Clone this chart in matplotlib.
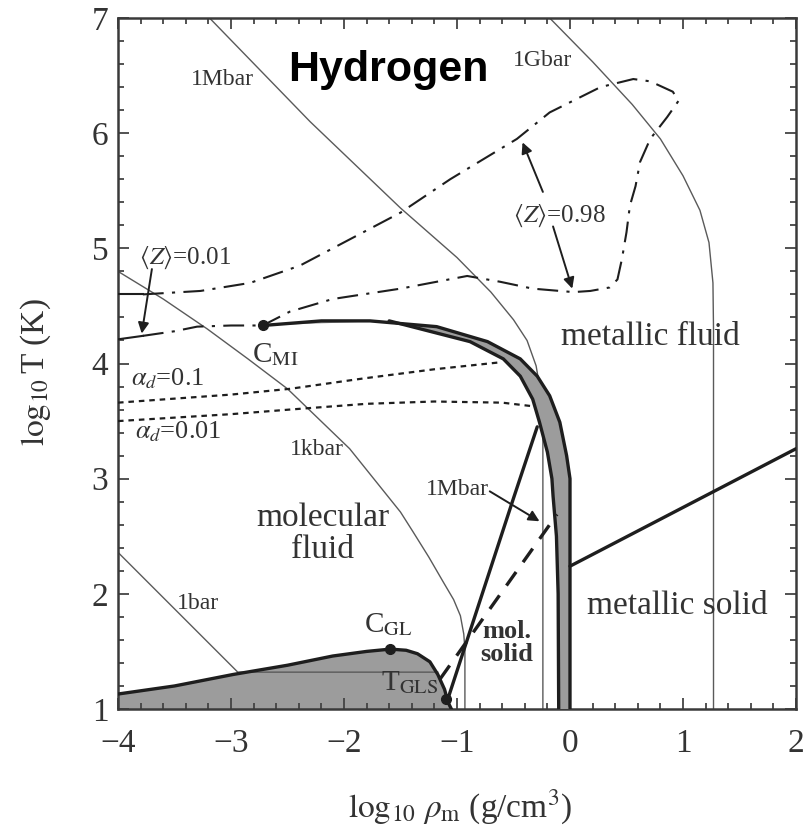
import matplotlib.pyplot as plt
from matplotlib.ticker import MultipleLocator

plt.rcParams['font.family'] = ['Liberation Serif', 'DejaVu Serif']
plt.rcParams['mathtext.fontset'] = 'stix'

INK = '#1e1e1e'
TXT = '#333333'
ISO = '#5a5a5a'
FILL = '#9c9c9c'

# isobars (log10 rho, log10 T)
bar1_x = [-4.0, -2.94, -1.17]
bar1_y = [2.36, 1.32, 1.32]
kbar1_x = [-4.0, -3.6, -3.21, -2.85, -2.50, -1.95, -1.50, -1.39, -1.25, -1.12, -1.03, -0.97, -0.94, -0.93, -0.93]
kbar1_y = [4.80, 4.56, 4.30, 4.04, 3.78, 3.26, 2.71, 2.54, 2.32, 2.10, 1.95, 1.81, 1.65, 1.52, 1.0]
mbar1_x = [-3.19, -2.30, -1.50, -1.00, -0.70, -0.50, -0.38, -0.30, -0.26, -0.24, -0.24]
mbar1_y = [7.00, 6.10, 5.35, 4.92, 4.62, 4.38, 4.20, 3.98, 3.75, 3.45, 1.0]
gbar1_x = [-0.18, 0.20, 0.55, 0.80, 1.00, 1.15, 1.23, 1.265, 1.27, 1.27]
gbar1_y = [7.00, 6.62, 6.25, 5.95, 5.63, 5.33, 5.05, 4.70, 4.30, 1.0]

# gas-liquid coexistence dome
gl_x = [-4.0, -3.5, -2.98, -2.5, -2.10, -1.80, -1.59, -1.45, -1.35, -1.24, -1.17, -1.11, -1.08, -1.05]
gl_y = [1.13, 1.20, 1.30, 1.38, 1.46, 1.50, 1.52, 1.51, 1.48, 1.41, 1.30, 1.17, 1.06, 1.0]

# molecular -> metallic transition band (outer and inner edges)
out_x = [-2.72, -2.20, -1.77, -1.18, -0.73, -0.44, -0.29, -0.18, -0.09, -0.03, 0.0, 0.0]
out_y = [4.33, 4.37, 4.37, 4.32, 4.19, 4.04, 3.89, 3.72, 3.49, 3.20, 3.00, 1.0]
in_x = [-1.60, -1.48, -0.885, -0.59, -0.44, -0.33, -0.27, -0.20, -0.16, -0.15, -0.12, -0.105, -0.10]
in_y = [4.37, 4.34, 4.19, 4.04, 3.89, 3.69, 3.49, 3.23, 3.00, 2.85, 2.50, 2.00, 1.0]

# melting lines
mmelt_x = [-1.09, -0.90, -0.70, -0.50, -0.29]
mmelt_y = [1.06, 1.63, 2.23, 2.83, 3.45]
smelt_x = [0.0, 2.0]
smelt_y = [2.24, 3.26]
msol_x = [-1.15, -0.115]
msol_y = [1.26, 2.69]

# dissociation fraction contours
ad01_x = [-4.0, -3.0, -2.48, -1.83, -1.20, -0.62]
ad01_y = [3.66, 3.73, 3.78, 3.87, 3.95, 4.01]
ad001_x = [-4.0, -3.0, -2.48, -1.80, -1.20, -0.60, -0.34]
ad001_y = [3.50, 3.56, 3.60, 3.65, 3.67, 3.66, 3.63]

# ionization contours <Z>
z098_x = [-3.78, -3.27, -2.83, -2.39, -1.50, -1.06, -0.47, -0.18, 0.27, 0.56, 0.71, 0.91, 0.96,
          0.86, 0.71, 0.62, 0.58, 0.53, 0.50, 0.46, 0.42, 0.35, 0.18, 0.03,
          -0.33, -0.62, -0.91, -1.50, -2.10, -2.48, -2.72]
z098_y = [4.60, 4.63, 4.70, 4.85, 5.31, 5.60, 5.95, 6.18, 6.40, 6.47, 6.45, 6.36, 6.28,
          6.14, 5.95, 5.75, 5.54, 5.37, 5.14, 4.91, 4.73, 4.66, 4.63, 4.62,
          4.65, 4.71, 4.76, 4.65, 4.56, 4.45, 4.33]
z001_x = [-3.78, -3.50, -3.30, -3.00, -2.72]
z001_y = [4.24, 4.28, 4.32, 4.33, 4.33]

c_mi = (-2.72, 4.33)
c_gl = (-1.59, 1.52)
t_gls = (-1.10, 1.09)

fig = plt.figure(figsize=(8.04, 8.32), dpi=100)
ax = fig.add_axes([118 / 804, 1 - 709 / 832, 678 / 804, 691 / 832])

ax.fill_between(gl_x, gl_y, 1.0, color=FILL, lw=0, zorder=1)
ax.fill(out_x + in_x[::-1], out_y + in_y[::-1], color=FILL, lw=0, zorder=3)

for xs, ys in [(bar1_x, bar1_y), (kbar1_x, kbar1_y), (mbar1_x, mbar1_y), (gbar1_x, gbar1_y)]:
    ax.plot(xs, ys, color=ISO, lw=1.0, zorder=2)

thick = dict(color=INK, lw=2.4, solid_capstyle='round', zorder=4)
ax.plot(gl_x, gl_y, **thick)
ax.plot(out_x, out_y, **thick)
ax.plot(in_x, in_y, **thick)
ax.plot(mmelt_x, mmelt_y, **thick)
ax.plot(smelt_x, smelt_y, **thick)
ax.plot(msol_x, msol_y, color=INK, lw=2.4, ls=(0, (5, 3.6)), zorder=4)

ax.plot(ad01_x, ad01_y, color=INK, lw=1.6, ls=(0, (2.5, 2.2)), zorder=4)
ax.plot(ad001_x, ad001_y, color=INK, lw=1.6, ls=(0, (2.5, 2.2)), zorder=4)

dashdot = (0, (10, 4, 1.5, 4))
ax.plot(z098_x, z098_y, color=INK, lw=1.5, ls=dashdot, zorder=4)
ax.plot(z001_x, z001_y, color=INK, lw=1.5, ls=dashdot, zorder=4)
ax.plot([-4.0, -3.78], [4.60, 4.60], color=INK, lw=1.5, zorder=4)
ax.plot([-4.0, -3.78], [4.21, 4.24], color=INK, lw=1.5, zorder=4)

for px, py in (c_mi, c_gl, t_gls):
    ax.plot(px, py, 'o', color=INK, ms=7, zorder=5)

arrow = dict(arrowstyle='-|>', color=INK, lw=1.4, mutation_scale=16, shrinkA=0, shrinkB=0)
ax.annotate('', xy=(-3.79, 4.26), xytext=(-3.70, 4.82), arrowprops=arrow, zorder=5)
ax.annotate('', xy=(-0.42, 5.92), xytext=(-0.24, 5.49), arrowprops=arrow, zorder=5)
ax.annotate('', xy=(0.02, 4.65), xytext=(-0.15, 5.19), arrowprops=arrow, zorder=5)
ax.annotate('', xy=(-0.27, 2.63), xytext=(-0.71, 2.89), arrowprops=arrow, zorder=5)

def label(x, y, s, size=18, **kw):
    ax.text(x, y, s, fontsize=size, color=TXT, ha='center', va='center', zorder=6, **kw)

ax.text(-1.61, 6.55, 'Hydrogen', fontsize=31, fontweight='bold', family='Liberation Sans',
        color='black', ha='center', va='center', zorder=6)
label(-3.08, 6.47, '1Mbar', 17)
label(-0.24, 6.63, '1Gbar', 17)
label(-3.41, 4.92, r'$\langle Z\rangle$=0.01', 18)
label(-0.09, 5.28, r'$\langle Z\rangle$=0.98', 18)
label(0.71, 4.23, 'metallic fluid', 24)
label(-2.61, 4.08, r'C$_{\rm MI}$', 21)
label(-3.56, 3.87, r'$\alpha_d$=0.1', 19)
label(-3.47, 3.41, r'$\alpha_d$=0.01', 19)
label(-2.24, 3.25, '1kbar', 17)
label(-2.19, 2.52, 'molecular\nfluid', 24, linespacing=1.05)
label(-3.29, 1.92, '1bar', 17)
label(-1.61, 1.73, r'C$_{\rm GL}$', 21)
label(-1.42, 1.23, r'T$_{\rm GLS}$', 21)
label(-0.56, 1.57, 'mol.\nsolid', 19, fontweight='bold', linespacing=1.0)
label(-1.00, 2.91, '1Mbar', 17)
label(0.95, 1.90, 'metallic solid', 24)

ax.set_xlim(-4, 2)
ax.set_ylim(1, 7)
ax.set_xticks(range(-4, 3))
ax.set_yticks(range(1, 8))
ax.xaxis.set_minor_locator(MultipleLocator(0.2))
ax.yaxis.set_minor_locator(MultipleLocator(0.2))
ax.tick_params(which='both', direction='in', top=True, right=True, color='#444444', width=1.3)
ax.tick_params(which='major', length=8, labelsize=24, labelcolor=TXT)
ax.tick_params(which='minor', length=4)
ax.tick_params(axis='x', pad=14)
ax.tick_params(axis='y', pad=7)
for sp in ax.spines.values():
    sp.set_color('#3a3a3a')
    sp.set_linewidth(1.8)

ax.set_ylabel(r'$\log_{10}$T (K)', fontsize=24, color=TXT)
ax.yaxis.label.set_va('center')
ax.yaxis.set_label_coords(-0.122, 0.488)
ax.set_xlabel(r'$\log_{10}\,\rho_{\rm m}$ (g/cm$^3$)', fontsize=24, color=TXT)
ax.xaxis.label.set_va('center')
ax.xaxis.set_label_coords(0.504, -0.142)

fig.savefig('out.png', dpi=100)
